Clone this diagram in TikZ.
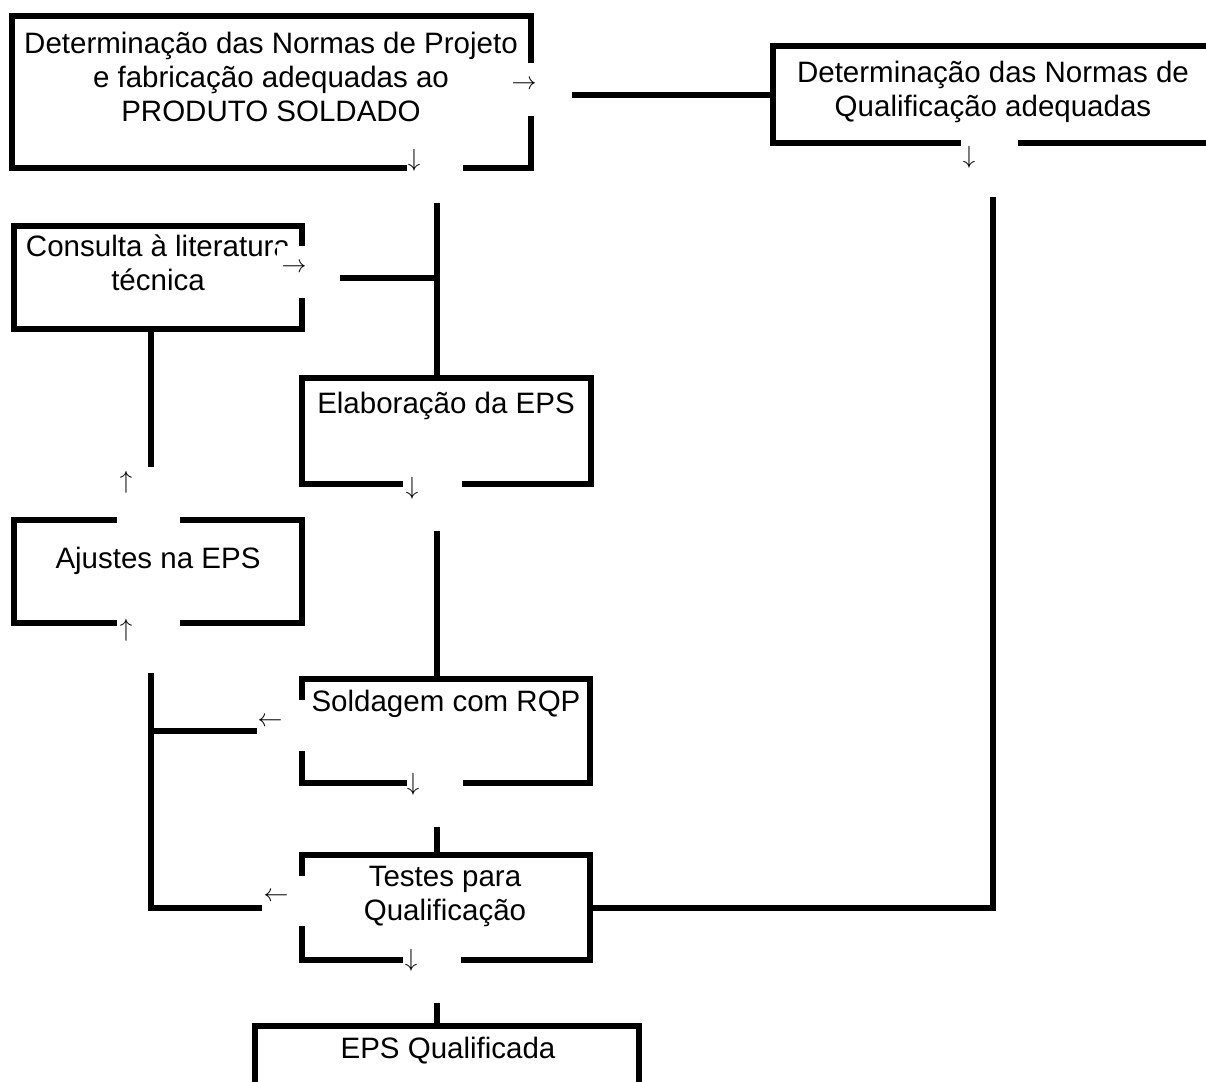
\documentclass[tikz,border=0pt]{standalone}
\usepackage{fontspec}
\setmainfont{Liberation Sans}
\begin{document}
\begin{tikzpicture}[x=1pt,y=-1pt,
  box/.style={draw,line width=6pt,line join=miter,rectangle,inner sep=0pt},
  conn/.style={line width=6pt},
  txt/.style={anchor=north,inner sep=0pt,align=center,font=\fontsize{29.5}{34}\selectfont},
  arr/.style={inner sep=0pt,font=\fontsize{27}{30}\selectfont},
  patch/.style={fill=white}]
\useasboundingbox (0,0) rectangle (1206,1081);
\clip (0,0) rectangle (1206,1081);
% boxes
\node[box,minimum width=519pt,minimum height=152pt] (A) at (271.5,92) {};
\node[box,minimum width=447pt,minimum height=97pt] (B) at (996.5,94.5) {};
\node[box,minimum width=288pt,minimum height=103pt] (C) at (158,277.5) {};
\node[box,minimum width=289pt,minimum height=106pt] (D) at (446.5,431) {};
\node[box,minimum width=288pt,minimum height=103pt] (E) at (158,571.5) {};
\node[box,minimum width=288pt,minimum height=104pt] (F) at (446,731) {};
\node[box,minimum width=288pt,minimum height=105pt] (G) at (446,907.5) {};
\node[box,minimum width=384pt,minimum height=80pt] (H) at (447,1066) {};
% junction coordinates
\coordinate (vA) at (437,0);
\coordinate (vB) at (993,0);
\coordinate (vC) at (151,0);
% connectors
\draw[conn] (B.west -| A.east) -- (B.west);
\draw[conn] (vA |- A.south) -- (vA |- D.north);
\draw[conn] (C.east) -- (C.east -| vA);
\draw[conn] (vB |- B.south) -- (vB |- G.east) -- (G.east);
\draw[conn] (vC |- C.south) -- (vC |- E.north);
\draw[conn] (vC |- E.south) -- (vC |- G.west) -- (G.west);
\draw[conn] (vC |- F.west) -- (F.west);
\draw[conn] (vA |- D.south) -- (vA |- F.north);
\draw[conn] (vA |- F.south) -- (vA |- G.north);
\draw[conn] (vA |- G.south) -- (vA |- H.north);
% texts
\node[txt] (tA) at (271,32) {Determinação das Normas de Projeto\\e fabricação adequadas ao\\PRODUTO SOLDADO};
\node[txt] (tB) at (993,61) {Determinação das Normas de\\Qualificação adequadas};
\node[txt] (tC) at (158,235) {Consulta à literatura\\técnica};
\node[txt] (tD) at (446,392) {Elaboração da EPS};
\node[txt] (tE) at (158,547) {Ajustes na EPS};
\node[txt] (tF) at (446,690) {Soldagem com RQP};
\node[txt] (tG) at (445,866) {Testes para\\Qualificação};
\node[txt] (tH) at (448,1037) {EPS Qualificada};
% white patches (text boxes holding the arrows)
\fill[patch] (509,63) rectangle (572,116);
\fill[patch] (407,140) rectangle (463,203);
\fill[patch] (961,128) rectangle (1018,197);
\fill[patch] (277,246) rectangle (340,298);
\fill[patch] (117,467) rectangle (180,525);
\fill[patch] (117,615) rectangle (180,673);
\fill[patch] (257,700) rectangle (310,751);
\fill[patch] (403,470) rectangle (462,531);
\fill[patch] (407,770) rectangle (463,827);
\fill[patch] (262,876) rectangle (310,926);
\fill[patch] (403,945) rectangle (461,1003);
% arrows
\node[arr] (a1) at (524,85) {$\rightarrow$};
\node[arr] (a2) at (414,160) {$\downarrow$};
\node[arr] (a3) at (969,157) {$\downarrow$};
\node[arr] (a4) at (294,268) {$\rightarrow$};
\node[arr] (a5) at (126,482) {$\uparrow$};
\node[arr] (a6) at (126,630) {$\uparrow$};
\node[arr] (a7) at (270,722) {$\leftarrow$};
\node[arr] (a8) at (412,488) {$\downarrow$};
\node[arr] (a9) at (413,784) {$\downarrow$};
\node[arr] (a10) at (276,897) {$\leftarrow$};
\node[arr] (a11) at (411,960) {$\downarrow$};
\end{tikzpicture}
\end{document}
